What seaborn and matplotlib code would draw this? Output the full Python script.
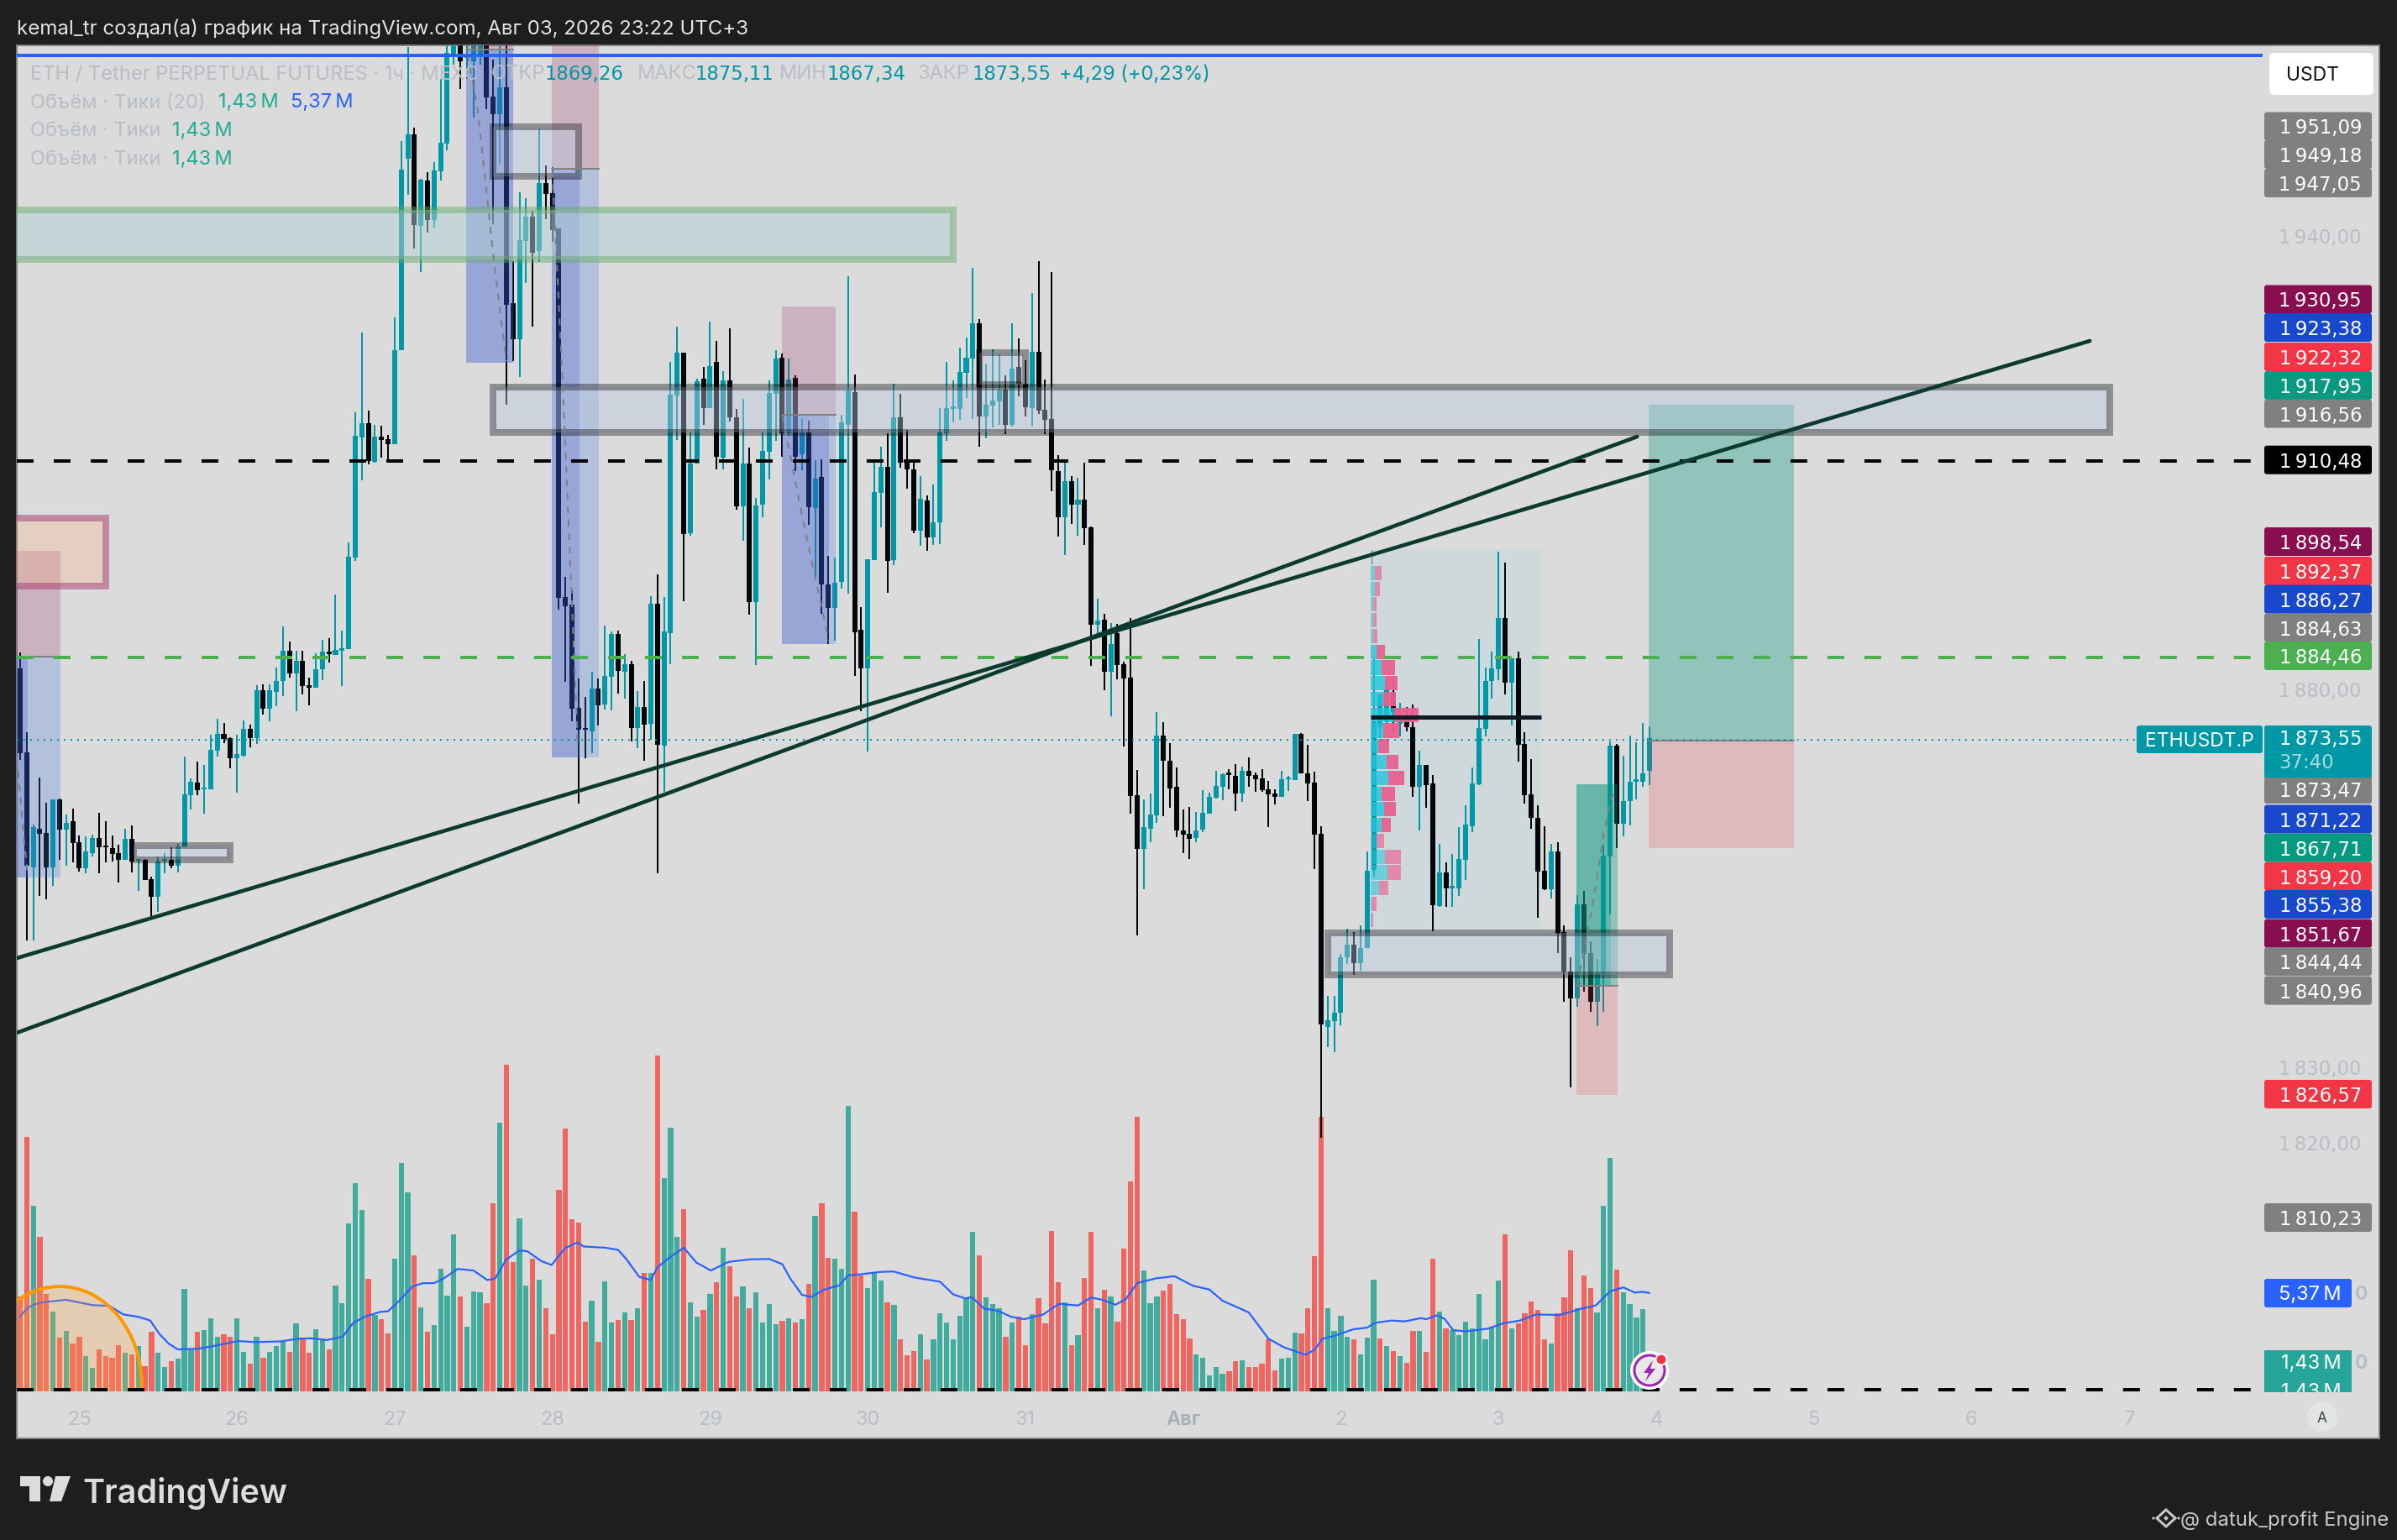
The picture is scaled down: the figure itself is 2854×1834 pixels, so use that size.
import matplotlib
matplotlib.use("Agg")
import matplotlib.pyplot as plt
from matplotlib.patches import Rectangle, Ellipse, Circle, Polygon, FancyBboxPatch
import numpy as np
import pandas as pd
import seaborn as sns

# ---------- data ----------
first_hour = -9
opens = [1882.79,1871.68,1856.49,1861.52,1861.02,1856.4,1865.47,1861.48,1862.56,1859.8,
1856.36,1858.36,1860.36,1859.21,1859.03,1858.35,1857.39,1860.21,1857.35,1857.4,
1854.9,1852.54,1857.3,1857.44,1856.67,1859.07,1866.0,1867.69,1866.74,1866.78,
1871.9,1874.13,1873.54,1870.91,1871.23,1874.76,1873.54,1879.89,1877.44,1879.71,
1881.07,1885.06,1882.11,1883.79,1880.52,1880.21,1882.66,1884.97,1884.6,1885.1,
1885.33,1897.44,1913.38,1915.2,1910.11,1913.47,1913.15,1912.47,1924.94,1950.22,
1953.44,1941.33,1947.33,1942.07,1948.55,1952.26,1964.11,1967,1963.5,1963.1,
1964.11,1968,1958.44,1956.14,1959.66,1931.14,1926.33,1939.37,1942.55,1938.0,
1947.0,1945.66,1940.96,1892.23,1891.23,1877.56,1874.74,1874.48,1880.11,1878,
1881.67,1887.34,1882.34,1883.34,1874.93,1877.63,1875.48,1891.34,1872.6,1887.45,
1918.92,1924.55,1900.67,1909.93,1921.07,1917.26,1923.37,1910.7,1920.85,1916.03,
1904.26,1909.93,1891.6,1904.45,1911.44,1919.11,1923.93,1913.92,1921.22,1911.15,
1914,1904,1908.08,1893.93,1890.78,1894.27,1915,1919.37,1887.89,1882.82,
1897.15,1906.04,1909.45,1897.15,1915.97,1910.41,1909.08,1901.04,1905,1900.07,
1902.08,1913.93,1917.15,1917.15,1921.89,1923.8,1928.45,1916.15,1917.6,1918.15,
1919.67,1915,1922.63,1920.41,1917.26,1924.63,1916.96,1915.74,1908.93,1902.78,
1907.6,1904.44,1905.11,1901.4,1888.56,1889.23,1882.33,1887.41,1883.34,1881.52,
1865.97,1858.93,1861.6,1863.37,1873.89,1870.56,1867.08,1861.34,1860.86,1860.34,
1861.45,1863.56,1865.67,1867.12,1868.89,1868.56,1866.23,1869.23,1868.67,1868.23,
1866.78,1866.23,1865.82,1868.08,1867.97,1874.11,1868.89,1867.65,1860.87,1835.29,
1836.09,1837.17,1844.55,1846.22,1843.79,1845.79,1856.13,1874.87,1875.67,1879.71,
1875.4,1876.48,1874.97,1867.06,1870.02,1867.6,1851.33,1855.75,1853.7,1853.65,
1857.47,1861.94,1867.44,1874.76,1881.06,1882.68,1889.41,1880.9,1884.13,1872.76,
1866.09,1863.02,1856.02,1853.6,1858.6,1847.94,1842.66,1839.06,1851.55,1845.09,
1838.68,1842.45,1857.9,1872.55,1862.21,1865.17,1867.81,1867.76,1869.26]
closes = [1871.55,1856.67,1861.79,1860.93,1856.49,1865.47,1861.48,1862.38,1859.66,1856.36,
1858.57,1860.36,1859.07,1859.07,1858.26,1857.44,1860.21,1857.21,1857.58,1854.81,
1852.54,1857.17,1857.58,1856.67,1859.21,1866.1,1867.73,1866.69,1867,1872,
1874.13,1873.45,1870.91,1871.45,1874.76,1873.54,1879.89,1877.44,1879.89,1881.07,
1885.06,1882.11,1883.79,1880.43,1880.21,1882.66,1884.97,1884.7,1885.19,1885.47,
1897.58,1913.6,1915.2,1910.2,1913.47,1912.97,1912.42,1924.85,1948.75,1953.44,
1941.44,1947.44,1942.07,1948.66,1952.33,1964.22,1966,1963.11,1963.6,1968,
1969,1958.37,1956.14,1959.66,1930.85,1926.33,1939.48,1942.55,1937.74,1947,
1945.59,1940.77,1892.15,1891.04,1877.45,1874.63,1874.63,1880.11,1877.89,1881.78,
1887.34,1882.45,1883.34,1874.93,1877.63,1875.37,1891.34,1872.71,1887.67,1919,
1924.55,1900.6,1909.93,1920.77,1917.26,1922.81,1910.77,1920.85,1916.03,1904.26,
1909.93,1891.6,1904.37,1911.6,1919.22,1923.81,1913.92,1920.96,1910.77,1914,
1904.11,1907.89,1893.93,1890.78,1894.11,1915.3,1919.56,1887.52,1882.82,1897.23,
1906.11,1909.45,1897.04,1915.97,1910.04,1909.08,1901.04,1905.23,1900.11,1902.08,
1914,1917.23,1917.34,1921.97,1923.89,1928.45,1916.15,1917.63,1918.19,1919.56,
1915,1922.41,1920.41,1917.34,1924.63,1916.89,1915.67,1909,1902.78,1907.6,
1904.48,1905.11,1901.34,1888.56,1889.08,1882.33,1886.05,1883.26,1881.49,1865.93,
1858.93,1861.78,1863.45,1873.89,1870.56,1866.93,1861.34,1860.78,1860.23,1861.34,
1863.67,1865.78,1867.23,1868.78,1868.71,1866.23,1869.23,1868.56,1868.12,1866.67,
1866.12,1865.78,1868.13,1868.3,1874.11,1868.94,1867.6,1860.81,1835.66,1836.2,
1837.23,1844.6,1846.22,1843.79,1845.79,1856.02,1875.67,1879.28,1879.98,1877.02,
1876.21,1875.03,1867.06,1870.02,1867.33,1851.44,1855.75,1853.7,1853.86,1857.53,
1862.1,1867.54,1874.87,1881.11,1882.78,1889.41,1880.9,1884.13,1872.71,1865.98,
1863.02,1855.91,1853.6,1858.6,1847.67,1842.66,1839.06,1851.55,1844.98,1838.68,
1842.45,1858.01,1872.55,1862.21,1865.23,1867.76,1868.03,1868.94,1873.55]
highs = [1884.88,1874.31,1862.06,1868.32,1865.01,1865.47,1865.56,1863.47,1864.24,1860.71,
1860.57,1860.8,1863.66,1862.56,1860.66,1859.44,1861.57,1862.02,1857.58,1857.6,
1855.22,1857.94,1858.36,1859.12,1859.57,1871.14,1868.23,1870.46,1870,1874.04,
1876.12,1875.58,1873.72,1873.95,1875.9,1875.31,1880.61,1880.66,1880.66,1882.88,
1888.32,1886.33,1885.06,1885.15,1881.57,1884.79,1886.56,1886.78,1892.54,1887.78,
1899.44,1916.64,1927.21,1916.87,1915,1914.87,1913.7,1929.25,1952.52,1965,
1954.29,1947.55,1948.44,1949.77,1960.77,1965.2,1970,1970,1967,1970,
1970,1970,1963.37,1970,1970,1936.7,1945.77,1945.03,1943.37,1954.22,
1949.29,1949.11,1940.96,1894.86,1893.08,1881.41,1879,1882.34,1881.41,1888.45,
1887.63,1887.78,1884.63,1883.74,1879.74,1881.11,1892.34,1895.23,1892.23,1923.37,
1928,1924.55,1914,1921.14,1922.7,1928.66,1926.07,1922.07,1927.81,1917.07,
1918.44,1911.97,1905.37,1914,1920.85,1924.92,1924.48,1923.74,1921.59,1915.89,
1915.5,1910.3,1910.41,1897.63,1897.45,1916.34,1934.67,1921.67,1890.86,1897.23,
1910.11,1912.08,1913.89,1920.41,1919.08,1914.3,1910.11,1908.19,1905.67,1907.15,
1917.23,1923.34,1920.86,1925.23,1926.52,1935.76,1929,1923,1925,1924.3,
1921.52,1928.45,1926.41,1923.52,1932.45,1936.67,1920.97,1935.23,1910.97,1910.11,
1908.26,1908,1910,1901.5,1891.97,1889.95,1888.77,1888.69,1883.63,1889.45,
1869.3,1865.41,1866.23,1876.97,1875.67,1872.89,1869.67,1864.12,1864.45,1863.78,
1866.67,1866.34,1869.23,1868.89,1869.45,1870.12,1869.78,1871,1869,1869.45,
1867.89,1866.78,1869.21,1868.57,1874.11,1874.27,1872.66,1869.1,1861.89,1839.43,
1839.43,1844.98,1848.32,1847.94,1848.75,1858.55,1884.02,1879.28,1881.6,1881.6,
1878.26,1877.72,1878,1871.9,1870.02,1868.67,1859.57,1857.1,1858.17,1861.78,
1864.63,1869.64,1886.71,1882.94,1884.99,1898.18,1896.78,1884.13,1884.99,1874.33,
1870.83,1864.63,1861.94,1859.52,1859.79,1848.75,1844.55,1852.79,1853.33,1846.7,
1844.28,1859.41,1873.09,1872.82,1871.26,1873.9,1872.98,1875.57,1875.11]
lows = [1870.64,1846.83,1846.83,1852.72,1852.27,1853.99,1857.39,1856.67,1857.08,1855.9,
1855.72,1857.89,1855.72,1857.08,1857.17,1854.45,1857.39,1855.76,1853.36,1854.8,
1850,1850.59,1855.67,1856.36,1855.76,1859.07,1864.11,1866,1863.52,1866.78,
1871.14,1872.9,1869.5,1866.33,1871.14,1872.36,1872.81,1876.67,1875.76,1877.8,
1879.16,1881.61,1877.12,1879.36,1877.89,1880.21,1881.25,1883.56,1884.5,1880.39,
1885.33,1896.99,1907.71,1909.75,1910,1910.66,1910.2,1912.47,1924.94,1945.4,
1938.37,1935.22,1940.48,1941.14,1947.33,1951.33,1962.63,1959.48,1960.77,1955.7,
1962.63,1956.77,1941.59,1949.48,1917.63,1923.44,1921.33,1933.73,1928,1936.59,
1942.26,1939.22,1890.6,1881.04,1875.78,1864.93,1870.93,1871.6,1875.23,1877.34,
1877.23,1879.45,1878.82,1873.15,1872.26,1870.6,1873.37,1855.72,1866.41,1883.34,
1913,1891.67,1900.3,1909.9,1915.03,1917.26,1909.11,1909.11,1915.4,1903.82,
1899.67,1889.93,1883.27,1902.78,1907.78,1912.92,1910.77,1913.5,1908.93,1909,
1901.78,1894.93,1890.04,1885.97,1886.41,1893.37,1892.71,1881.78,1877.08,1871.78,
1897.15,1901.41,1892.82,1896.41,1909.3,1906.6,1900.67,1899,1898.37,1899.11,
1899.26,1912.89,1915.37,1915.67,1918.56,1915.78,1912.15,1913.26,1914.71,1915.04,
1913.82,1914.82,1918.82,1916.15,1914.93,1916.48,1913.82,1906.23,1900.23,1897.78,
1901.89,1900.34,1899.11,1883.15,1887.15,1879.93,1876.44,1881.34,1872.45,1863.56,
1847.41,1853.52,1859.82,1862.34,1863.26,1864.37,1860.49,1858.34,1857.6,1859.78,
1861.12,1863.56,1865.56,1865.34,1866.78,1863.89,1865.12,1867.12,1866.45,1866.45,
1861.78,1864.78,1865.82,1866.57,1867.97,1868.94,1865.17,1856.18,1820.64,1832.7,
1831.95,1835.56,1843.63,1842.18,1842.83,1845.79,1855.2,1873.52,1875,1874.06,
1873.79,1874.44,1865.82,1861.3,1864.37,1848.05,1851.17,1851.17,1851.17,1852.63,
1854.78,1861.13,1867.33,1873.79,1878.8,1881.22,1879.28,1875.24,1870.4,1864.9,
1861.57,1849.83,1853.43,1852.36,1845.09,1838.63,1827.33,1837.98,1840.03,1837.33,
1835.45,1837.33,1850.2,1858.98,1860.6,1862.05,1865.44,1867.06,1867.34]
volumes = [5.2,13.88,10.13,8.43,5.3,4.34,2.92,3.28,2.61,2.97,
1.91,1.27,2.28,1.91,1.82,2.5,2.1,2.0,2.47,1.36,
3.25,2.1,1.32,1.63,1.77,5.58,2.35,3.25,3.34,3.98,
2.97,3.11,3.0,3.98,2.14,1.49,2.97,1.82,2.14,2.47,
2.69,2.14,3.7,2.87,2.1,3.39,2.88,2.28,5.8,4.8,
9.16,11.36,9.89,6.13,4.17,3.93,3.15,7.23,12.46,10.86,
7.42,4.57,3.25,3.61,6.69,5.21,8.57,5.18,3.51,5.44,
5.4,4.8,10.27,14.67,17.83,7.05,9.44,5.77,7.23,6.08,
4.54,3.11,11.0,14.34,9.38,9.24,3.79,4.93,2.69,6.0,
3.75,3.89,4.29,3.89,4.54,6.45,6.45,18.33,11.64,14.39,
8.43,9.94,4.85,4.07,4.43,5.3,5.94,7.84,6.83,5.18,
5.72,4.54,5.4,3.75,4.76,3.65,3.84,3.98,3.75,3.93,
5.86,9.57,10.27,7.28,7.23,6.69,15.59,9.8,6.34,5.63,
6.48,6.05,4.85,4.71,2.83,1.96,2.19,3.11,1.74,2.83,
4.26,3.75,2.83,4.15,5.07,8.71,7.42,5.13,4.76,4.54,
2.97,3.75,4.1,2.5,4.2,5.07,3.7,8.74,5.94,4.85,
2.5,3.06,6.19,8.71,4.54,5.54,5.18,3.79,7.78,11.45,
14.98,6.59,4.8,5.18,5.49,5.86,4.2,3.93,2.88,2.0,
1.82,0.85,1.32,0.96,1.09,1.63,1.69,1.32,1.32,1.49,
2.83,1.13,1.77,1.82,3.2,3.15,4.54,7.37,14.98,4.54,
3.28,4.12,3.0,2.83,2.0,2.92,6.08,2.88,2.47,2.19,
1.91,1.55,3.28,3.28,2.14,7.23,4.34,3.42,3.34,3.06,
3.79,3.42,5.3,2.83,3.48,6.05,8.57,3.42,3.7,4.26,
4.9,4.43,2.83,2.61,4.26,5.13,7.7,4.54,6.32,5.63,
4.29,10.13,12.74,6.64,5.4,4.76,4.03,4.48,1.43]
volume_sides = ("rrgrrgrgrr" "ggrrrrgrgr" "rggrgggrgg" "grrggrgrgg" "grgrrggrgg"
                "gggrgrrggg" "rgrggggrgg" "grrgrrggrg" "rrrrrrrgrg" "grgrgrgrgg"
                "grggrgrgrr" "grggggrgrg" "rgrrgggrrg" "ggrgrrrgrg" "ggggggrggg"
                "rgrrgrrrrg" "rgrrgrgrrr" "rgggrrrrrg" "ggggrrgrrr" "rrgggrrrrg"
                "gggrgggrgr" "grrgrrgrgg" "ggggggrgrr" "rrrgrrrgrr" "gggrggggg")

ma_hours = [-9,-8,-7,-5.5,-2,-0.65,2,4.6,6.7,9,10.8,12.2,13.6,15,18.1,20.5,24.2,26.7,30.7,33.2,35.2,37.7,40.1,41.7,43.4,45.8,47,48.7,50.7,52.3,54,55.6,57.6,60,62.1,63.3,65,67,68.2,70.3,71.9,73.9,75.8,76.8,80,82,83.3,85.2,87,88,89.8,92,93.9,96.1,98.8,102,105,107,108.2,110,111.4,113.4,115.7,
117,118.6,121.8,123.9,127.1,131,133,134.9,135.8,137.7,139.8,141.8,143.8,146.7,149.1,152,154,155.7,157.7,159.3,161,163.8,166.7,169.5,172,174,178,181,183.4,186.6,188,189.2,191.1,193.9,196,197.2,199.7,201.7,204.2,205,206.6,207.8,209.1,211.1,214.3,216.8,219.2,221.7,225.3,228.6,230.8,233,235,236.8,237.8,239]
ma_values = [4.08,4.52,4.73,4.87,5.0,4.9,4.71,4.67,4.2,4.07,3.87,3.13,2.61,2.29,2.33,2.48,2.75,2.69,2.73,2.87,2.9,2.8,2.99,3.74,4.07,4.34,4.38,4.95,5.73,5.91,5.91,6.2,6.69,6.6,6.08,6.17,7.21,7.7,7.65,7.12,6.9,7.82,8.13,7.91,7.85,7.73,7.21,6.26,6.08,6.78,7.3,7.85,7.04,6.6,7.07,7.21,7.23,6.95,6.17,5.27,5.16,5.56,5.79,
6.34,6.38,6.52,6.55,6.22,5.99,5.3,5.07,5.16,4.52,4.4,4.08,3.94,4.2,4.78,4.69,5.13,5.0,4.73,5.04,5.91,6.17,6.29,5.77,5.56,4.95,4.31,2.87,2.4,2.0,2.26,2.87,3.04,3.39,3.48,3.74,3.87,3.82,4.0,3.94,4.15,3.96,3.34,3.28,3.42,3.72,3.86,4.2,4.17,4.52,4.69,5.47,5.68,5.39,5.44,5.37]

day_ticks = [0,24,48,72,96,120,144,168,192,216,240,264,288,312]
day_labels = ["25","26","27","28","29","30","31","Авг","2","3","4","5","6","7"]
plain_prices = [1940,1880,1830,1820]

profile_prices = [1897.48,1895.4,1893.31,1891.23,1889.14,1887.06,1884.97,1882.89,1880.8,1878.72,1876.63,1874.55,1872.46,1870.38,1868.29,1866.21,1864.12,1862.04,1859.95,1857.87,1855.78,1853.7,1851.61,1849.53]
profile_buy = [.30,.72,.72,.38,.47,.38,.89,1.75,2.26,2.0,3.58,2.0,1.24,2.43,2.68,1.66,2.05,1.66,.89,2.17,2.56,1.28,.13,.13]
profile_sell = [.09,.94,.68,.51,.43,.64,1.28,1.96,1.83,1.92,3.71,2.34,1.58,1.79,2.43,2.05,1.79,1.41,1.15,2.43,2.05,1.41,.77,.26]

label_texts = ["1951,09","1949,18","1947,05","1930,95","1923,38","1922,32","1917,95","1916,56","1910,48",
               "1898,54","1892,37","1886,27","1884,63","1884,46","1873,47","1871,22","1867,71","1859,20",
               "1855,38","1851,67","1844,44","1840,96","1826,57","1810,23"]
label_rows = [150.5,184,218,356.5,390,425,459,492.6,547.7,645,680,713.6,747.5,781,940,975.5,1009.6,1043.6,1077,1111.6,1145,1179.6,1303,1450]
GRAY, MAROON, BLUE, RED, TEAL, BLACK, GREEN = "#808080", "#880e4f", "#1848cc", "#f23645", "#089981", "#000000", "#4caf50"
label_colors = [GRAY,GRAY,GRAY,MAROON,BLUE,RED,TEAL,GRAY,BLACK,MAROON,RED,BLUE,GRAY,GREEN,GRAY,BLUE,TEAL,RED,BLUE,MAROON,GRAY,GRAY,RED,GRAY]

# ---------- figure ----------
W, H = 2854, 1834
PANEL = "#dbdbdb"; DARK = "#1e1e1e"; UP = "#0097a7"; DOWN = "#04070a"
sns.set_theme(style="white", rc={"figure.facecolor": DARK, "axes.facecolor": PANEL})
plt.rcParams["font.family"] = ["Inter", "DejaVu Sans"]
NUM = "DejaVu Sans"   # wide, even digits for six-figure prices
NUMSZ = 16.4

L, R, T, B = 20, 2833, 54, 1713
fig = plt.figure(figsize=(W/100, H/100), dpi=100, facecolor=DARK)
rect = [L/W, 1-B/H, (R-L)/W, (B-T)/H]
axv = fig.add_axes(rect, zorder=1)
ax = fig.add_axes(rect, zorder=2)
ax.patch.set_alpha(0)
chrome = fig.add_axes([0, 0, 1, 1], zorder=3)
chrome.patch.set_alpha(0); chrome.set_xlim(0, W); chrome.set_ylim(H, 0); chrome.axis("off")

hours = np.arange(first_hour, first_hour + len(opens))
XLIM = (-9.51, 350.07)
PX = 1/1.389  # points per pixel

# volume pane
df = pd.DataFrame({"hour": hours, "volume": volumes, "side": list(volume_sides)})
sns.barplot(data=df, x="hour", y="volume", hue="side", palette={"g": "#41ab9d", "r": "#ef6560"},
            native_scale=True, dodge=False, width=0.8, saturation=1, legend=False, ax=axv, linewidth=0)
sns.lineplot(x=ma_hours, y=ma_values, color="#2962ff", lw=2*PX*1.1, sort=False, errorbar=None, ax=axv)
axv.set_xlim(*XLIM); axv.set_ylim(-2.57, 73.53)
axv.set_xticks([]); axv.set_yticks([]); axv.set_xlabel(""); axv.set_ylabel("")
for s in axv.spines.values(): s.set_visible(False)

# candles
o, c, h, l = map(np.array, (opens, closes, highs, lows))
col = np.where(c >= o, UP, DOWN)
ax.vlines(hours, l, h, colors=col, lw=2*PX, zorder=3)
ax.bar(hours, np.maximum(np.abs(c-o), 0.25), bottom=np.minimum(o, c), width=0.77, color=col, linewidth=0, zorder=3)

# horizontal levels (level offset: the scale's labels sit 0.21 above where the candle readings place them)
END = 332.3
LEVEL_SHIFT = 0.21
ax.plot([XLIM[0], END], [1963.92]*2, color="#2962ff", lw=4*PX, solid_capstyle="butt", zorder=6)
for lev, lc in [(1910.48-LEVEL_SHIFT, "#000000"), (1884.46-LEVEL_SHIFT, "#4caf50"), (1787.3, "#000000")]:
    ax.plot([XLIM[0], END], [lev]*2, color=lc, lw=4*PX, ls=(0, (5, 6)), dash_capstyle="butt", zorder=6)
ax.plot([XLIM[0], END], [1873.55-LEVEL_SHIFT]*2, color=UP, lw=2*PX, ls=(0, (1, 3)), zorder=6)

# volume profile
ax.add_patch(Rectangle((196.5, 1848.2), 26, 50.34, fc=(110/255, 190/255, 210/255, 0.1), ec="none", zorder=2))
for i, (py, b, s) in enumerate(zip(profile_prices, profile_buy, profile_sell)):
    core = 6 <= i <= 17
    ax.barh(py, b, left=196.5, height=1.9, color="#22c5dc", alpha=0.8 if core else 0.55, linewidth=0, zorder=5)
    ax.barh(py, s, left=196.5+b, height=1.9, color="#e8618e", alpha=0.95 if core else 0.65, linewidth=0, zorder=5)
ax.plot([196.5, 222.5], [1876.37]*2, color="#101820", lw=5*PX, solid_capstyle="butt", zorder=5)

# position tools
PINK, LBLUE, DBLUE = "#880e4f", (60/255, 116/255, 220/255), (49/255, 86/255, 211/255)
def box(x0, x1, y0, y1, color, alpha):
    ax.add_patch(Rectangle((x0, y0), x1-x0, y1-y0, fc=color, alpha=alpha, ec="none", zorder=4))
for x0, xm, x1, ytop, ymid, ybot in [(-9.51, -7.85, -2.86, 1898.33, 1884.33, 1855.11),
                                     (58.87, 66.1, 66.1, 1965.22, 1964.67, 1923.22),
                                     (71.9, 76.15, 79.1, 1966.0, 1948.89, 1871.0),
                                     (106.9, 114.1, 115.1, 1930.67, 1916.33, 1886.0)]:
    box(x0, x1, ymid, ytop, PINK, 0.2)
    box(x0, xm, ybot, ymid, DBLUE, 0.4)
    if x1 > xm: box(xm, x1, ybot, ymid, LBLUE, 0.25)
    ax.plot([x0, x1], [ymid]*2, color="#808080", lw=2*PX, zorder=5)
box(238.9, 261.0, 1873.22, 1917.67, "#089981", 0.34)
box(238.9, 261.0, 1859.0, 1873.22, "#f23645", 0.2)
ax.plot([238.9, 261.0], [1873.22]*2, color="#808080", lw=2*PX, zorder=5)
box(227.9, 233.1, 1840.78, 1867.44, "#089981", 0.55)
box(233.1, 234.1, 1840.78, 1867.44, "#089981", 0.34)
box(227.9, 234.1, 1826.33, 1840.78, "#f23645", 0.2)
ax.plot([227.9, 234.1], [1840.78]*2, color="#808080", lw=2*PX, zorder=5)

dash_paths = [([-9.5, -8.4, -7.9], [1871, 1860, 1856]),
              ([59.1, 60.6, 63.2, 65.0], [1964.1, 1957, 1936, 1923.4]),
              ([72, 73.6, 75.9], [1948.6, 1920, 1872.2]),
              ([107, 110, 114.1], [1916.2, 1903, 1886.4]),
              ([228, 229.2, 230.7, 232, 233.2, 234], [1840.9, 1846.3, 1853.3, 1860.9, 1865.7, 1866.5])]
for xs, ys in dash_paths:
    ax.plot(xs, ys, color="#808080", lw=2*PX, ls=(0, (4, 4)), zorder=5)

# zones: (h0, h1, p0, p1, fill, edge)
GF = (185/255, 200/255, 225/255, 0.4); GE = (0, 0, 0, 0.34)
zones = [(-15, 133.0, 1936.89, 1943.44, (178/255, 208/255, 212/255, 0.5), (100/255, 170/255, 100/255, 0.45)),
         (63.0, 309.0, 1914.0, 1920.0, GF, GE),
         (63.0, 76.0, 1947.89, 1954.44, GF, GE),
         (137.0, 144.0, 1920.33, 1924.56, GF, GE),
         (8.26, 23.0, 1857.44, 1859.33, GF, GE),
         (190.0, 242.0, 1842.22, 1847.78, GF, GE),
         (-15, 4.04, 1893.67, 1902.67, (1.0, 180/255, 140/255, 0.3), (165/255, 60/255, 115/255, 0.5))]
for x0, x1, y0, y1, fc, ec in zones:
    ax.add_patch(Rectangle((x0, y0), x1-x0, y1-y0, fc=fc, ec=ec, lw=8*PX, joinstyle="miter", zorder=4))

# trend lines
for xs, ys in [([-9.51, 306.0], [1844.44, 1926.11]), ([-9.51, 237.1], [1834.56, 1913.44])]:
    ax.plot(xs, ys, color="#0b3b2e", lw=4.6*PX, solid_capstyle="round", zorder=7)

# drawn circle
clip = Rectangle((-9.51, 1787.1), 60, 40, transform=ax.transData)
e = Ellipse((-3, 1787.9), 25.05, 26.2, fc=(1, 165/255, 60/255, 0.25), ec="#ff9800", lw=4*PX, zorder=5)
ax.add_patch(e); e.set_clip_path(clip)

ax.set_xlim(*XLIM); ax.set_ylim(1780.89, 1965.22)
ax.set_xticks(day_ticks, day_labels)
ax.set_yticks(plain_prices, ["1\u2009" + f"{p-1000},00" for p in plain_prices])
GT = "#b8bdc6"
ax.tick_params(axis="x", length=0, pad=-33*PX, labelsize=17, labelcolor=GT, bottom=True)
ax.tick_params(axis="y", length=0, pad=-120*PX, labelsize=NUMSZ, labelcolor=GT, labelfontfamily=NUM,
               left=False, right=True, labelleft=False, labelright=True)
avg = ax.get_xticklabels()[7]; avg.set_fontweight("semibold"); avg.set_color("#a8adb8")
for s in ax.spines.values():
    s.set_color("#808080"); s.set_linewidth(1.4)

# ---------- price-scale chips ----------
X0, X1, XT = 2696, 2824, 2812
for txt, y, cl in zip(label_texts, label_rows, label_colors):
    chrome.add_patch(FancyBboxPatch((X0, y-17), X1-X0, 34, boxstyle="round,pad=0,rounding_size=3", fc=cl, ec="none"))
    chrome.text(XT, y, "1\u2009" + txt[1:], color="white", fontsize=NUMSZ, family=NUM, ha="right", va="center_baseline")
chrome.add_patch(FancyBboxPatch((X0, 864), X1-X0, 62, boxstyle="round,pad=0,rounding_size=3", fc=UP, ec="none"))
chrome.text(XT, 878, "1\u2009873,55", color="white", fontsize=NUMSZ, family=NUM, ha="right", va="center_baseline")
chrome.text(2713, 906, "37:40", color="#a6dbe1", fontsize=NUMSZ, family=NUM, ha="left", va="center_baseline")
chrome.add_patch(FancyBboxPatch((2544, 864), 150, 33, boxstyle="round,pad=0,rounding_size=3", fc=UP, ec="none"))
chrome.text(2619, 880.5, "ETHUSDT.P", color="white", fontsize=16.5, ha="center", va="center_baseline")
chrome.add_patch(FancyBboxPatch((2702, 63), 124, 50, boxstyle="round,pad=0,rounding_size=6", fc="white", ec="none"))
chrome.text(2753, 88, "USDT", color="#111111", fontsize=16.5, ha="center", va="center_baseline")
for y in (1540, 1622):
    chrome.text(2819, y, "0", color=GT, fontsize=16.5, fontweight="bold", ha="right", va="center_baseline")
chrome.add_patch(FancyBboxPatch((X0, 1523), 104, 34, boxstyle="round,pad=0,rounding_size=3", fc="#2962ff", ec="none"))
chrome.text(2788, 1539, "5,37\u2009M", color="white", fontsize=17, ha="right", va="center_baseline")
chrome.add_patch(Rectangle((X0, 1608), 104, 50, fc="#26a69a", ec="none"))
chrome.text(2788, 1622, "1,43\u2009M", color="white", fontsize=17, ha="right", va="center_baseline")
t = chrome.text(2788, 1655, "1,43\u2009M", color="white", fontsize=17, ha="right", va="center_baseline")
t.set_clip_path(Rectangle((X0, 1640), 104, 18, transform=chrome.transData)); t.set_clip_on(True)

# bottom-right buttons
chrome.add_patch(Circle((2765, 1687), 18, fc="#e4e4e4", ec="none"))
chrome.text(2765, 1687, "A", color="#3c4a4a", fontsize=12.5, ha="center", va="center_baseline")

# alert icon
chrome.add_patch(Circle((1964, 1632), 23, fc="white", ec="none"))
chrome.add_patch(Circle((1964, 1632), 18, fc="#e8e8e8", ec="#9c27b0", lw=3*PX))
chrome.add_patch(Polygon([(1968, 1620), (1957, 1635), (1963, 1635), (1959, 1645), (1971, 1630), (1965, 1630)], fc="#9c27b0", ec="none"))
chrome.add_patch(Circle((1978, 1619), 6.5, fc="#f23645", ec="white", lw=2*PX))

# ---------- header & legend ----------
chrome.text(20, 32, "kemal_tr создал(а) график на TradingView.com, Авг 03, 2026 23:22 UTC+3",
            color="#e4e4e4", fontsize=17.3, ha="left", va="center_baseline")
LEG = 86
for x, s, cl, fam, sz in [(36, "ETH / Tether PERPETUAL FUTURES · 1ч · MEXC", GT, "Inter", 17), (585, "ОТКР", GT, "Inter", 17),
                          (649, "1869,26", UP, NUM, NUMSZ), (759, "МАКС", GT, "Inter", 17), (828, "1875,11", UP, NUM, NUMSZ),
                          (928, "МИН", GT, "Inter", 17), (985, "1867,34", UP, NUM, NUMSZ), (1092, "ЗАКР", GT, "Inter", 17),
                          (1158, "1873,55", UP, NUM, NUMSZ), (1261, "+4,29 (+0,23%)", UP, "Inter", 17)]:
    chrome.text(x, LEG, s, color=cl, fontsize=sz, family=fam, ha="left", va="center_baseline")
VTEAL = "#22ab94"
chrome.text(36, 120, "Объём · Тики (20)", color=GT, fontsize=17, va="center_baseline")
chrome.text(260, 120, "1,43\u2009M", color=VTEAL, fontsize=17, va="center_baseline")
chrome.text(346, 120, "5,37\u2009M", color="#2962ff", fontsize=17, va="center_baseline")
for y in (154, 188):
    chrome.text(36, y, "Объём · Тики", color=GT, fontsize=17, va="center_baseline")
    chrome.text(205, y, "1,43\u2009M", color=VTEAL, fontsize=17, va="center_baseline")

# ---------- footer ----------
LG = "#dcdcdc"
chrome.add_patch(Polygon([(24, 1758), (48, 1758), (48, 1788), (35, 1788), (35, 1770), (24, 1770)], fc=LG, ec="none"))
chrome.add_patch(Circle((57, 1764), 6, fc=LG, ec="none"))
chrome.add_patch(Polygon([(66, 1758), (84, 1758), (73, 1788), (59, 1788)], fc=LG, ec="none"))
chrome.text(98, 1774, "TradingView", color=LG, fontsize=28.4, fontweight="semibold", ha="left", va="center_baseline")
chrome.text(2844, 1808, "@ datuk_profit Engine", color="#c8c8c8", fontsize=17.2, ha="right", va="center_baseline")
chrome.add_patch(Polygon([(2579, 1798), (2590, 1808), (2579, 1818), (2568, 1808)], fc="none", ec="#c8c8c8", lw=3*PX))
chrome.add_patch(Polygon([(2579, 1805), (2582, 1808), (2579, 1811), (2576, 1808)], fc="#c8c8c8", ec="none"))
for x in (2564, 2594):
    chrome.add_patch(Polygon([(x, 1806), (x+2, 1808), (x, 1810), (x-2, 1808)], fc="#c8c8c8", ec="none"))

fig.savefig("out.png", dpi=100, facecolor=DARK)
